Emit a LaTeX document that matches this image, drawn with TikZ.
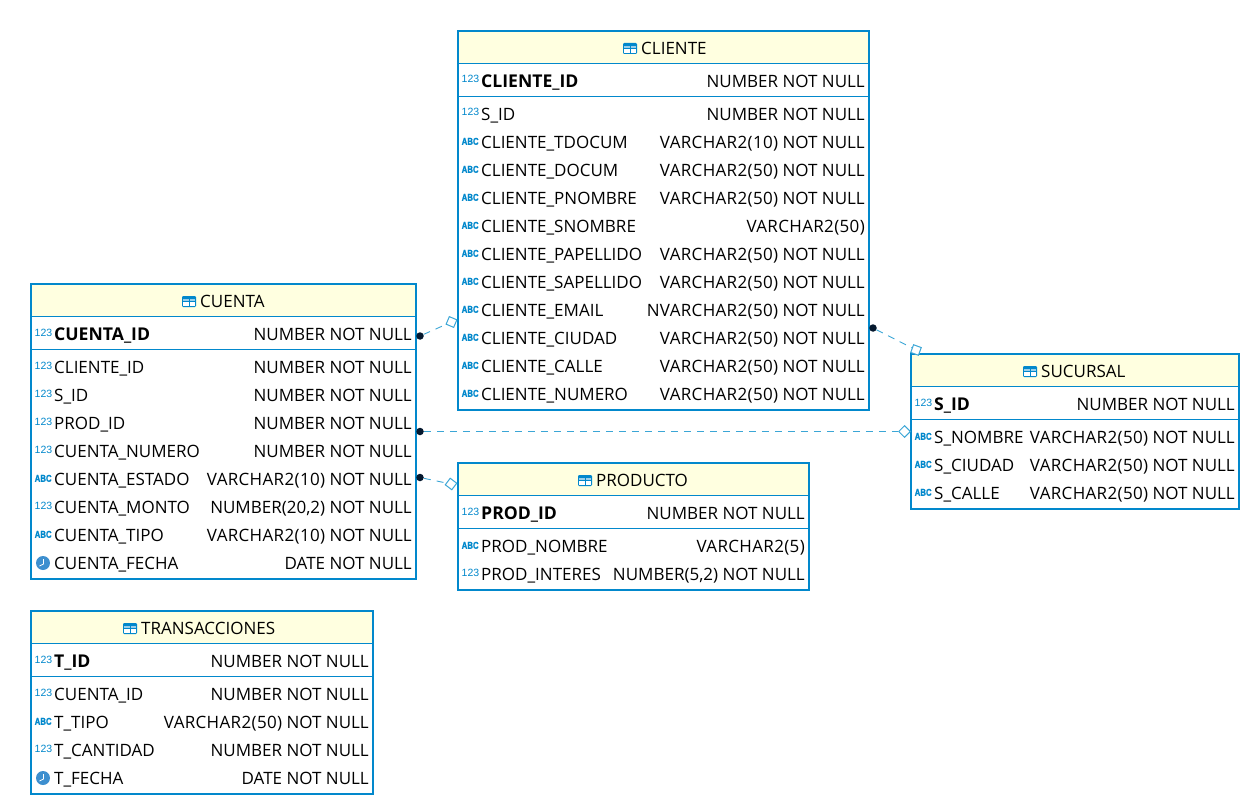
\documentclass[tikz,border=0pt]{standalone}
\usepackage{fontspec}
\usepackage{graphicx}
\setmainfont{Open Sans}
\newfontfamily\iconfont{Liberation Sans}
\newfontfamily\iconbold[FakeBold=1.2]{Liberation Sans Bold}
\definecolor{tblue}{HTML}{0288CC}
\definecolor{ticon}{HTML}{3D8FCF}
\definecolor{thead}{HTML}{FFFFE0}
\definecolor{tlink}{HTML}{3BA6D6}
\definecolor{tdot}{HTML}{05182E}
\newcount\rwc
\newcommand{\vc}[1]{{\addfontfeature{LetterSpace=2}#1}}
\usetikzlibrary{shapes.geometric}
\tikzset{x=1pt,y=-1pt,
  tablebox/.style={draw=tblue,line width=2pt,fill=white,inner sep=0pt,outer sep=0pt,anchor=north west},
  txt/.style={inner sep=0pt,font=\fontsize{17}{20}\selectfont,text=black},
  lab/.style={txt,anchor=base west},
  typ/.style={txt,anchor=base east},
  pk/.style={txt,anchor=base west,font=\fontsize{17.6}{20}\selectfont\bfseries},
  num/.style={inner sep=0pt,anchor=base west,text=tblue,font=\iconfont\fontsize{10.5}{10}\selectfont},
  abc/.style={inner sep=0pt,anchor=base west,text=tblue,font=\iconbold\fontsize{10}{10}\selectfont},
  link/.style={draw=tlink,line width=.9pt,dash pattern=on 7pt off 6pt},
  fkdot/.style={circle,fill=tdot,inner sep=0pt,minimum size=7.5pt},
  fkdia/.style={diamond,draw=tlink,fill=white,line width=1pt,inner sep=0pt,minimum size=12pt,shape aspect=1},
}
% table frame: name x0 y0 x1 y1 iconx title
\newcommand{\tbl}[7]{%
  \node[tablebox,minimum width=#4-#2,minimum height=#5-#3] (#1) at (#2,#3) {};
  \fill[thead] (#2+1,#3+1) rectangle (#4-1,#3+32);
  \draw[tblue,line width=1pt] (#2,#3+32.5) -- (#4,#3+32.5);
  \draw[tblue,line width=1pt] (#2,#3+65.5) -- (#4,#3+65.5);
  \fill[tblue,rounded corners=1.2pt] (#6,#3+12) rectangle (#6+14,#3+23);
  \fill[white!60!tblue] (#6+1.2,#3+15) rectangle (#6+6.5,#3+17);
  \fill[white!60!tblue] (#6+7.5,#3+15) rectangle (#6+12.8,#3+17);
  \fill[white] (#6+1.2,#3+18) rectangle (#6+6.5,#3+21.8);
  \fill[white] (#6+7.5,#3+18) rectangle (#6+12.8,#3+21.8);
  \node[lab] (#1title) at (#6+18,#3+23.5) {#7};
}
% rows: x0 x1 ycentre name type
\newcommand{\nrow}[5]{\global\advance\rwc by 1
  \node[num] (i\the\rwc) at (#1+3.5,#3+2) {123};
  \node[lab] (l\the\rwc) at (#1+23,#3+6.6) {#4};
  \node[typ] (t\the\rwc) at (#2-4,#3+6.6) {#5};}
\newcommand{\arow}[5]{\global\advance\rwc by 1
  \node[abc] (i\the\rwc) at (#1+3.5,#3+2.8) {\scalebox{.78}[1]{ABC}};
  \node[lab] (l\the\rwc) at (#1+23,#3+6.6) {#4};
  \node[typ] (t\the\rwc) at (#2-4,#3+6.6) {#5};}
\newcommand{\drow}[5]{\global\advance\rwc by 1
  \fill[ticon] (#1+12,#3) circle (7pt);
  \draw[white,line width=.8pt] (#1+12.5,#3-4) -- (#1+12.5,#3+1) -- (#1+8.5,#3+3);
  \node[lab] (l\the\rwc) at (#1+23,#3+6.6) {#4};
  \node[typ] (t\the\rwc) at (#2-4,#3+6.6) {#5};}
\newcommand{\prow}[5]{\global\advance\rwc by 1
  \node[num] (i\the\rwc) at (#1+3.5,#3+2) {123};
  \node[pk] (l\the\rwc) at (#1+23,#3+6.6) {#4};
  \node[typ] (t\the\rwc) at (#2-4,#3+6.6) {#5};}
\begin{document}
\begin{tikzpicture}
\useasboundingbox (0,0) rectangle (1250,805);
% CLIENTE
\tbl{cliente}{458}{31}{869}{410}{623}{CLIENTE}
\prow{458}{869}{81}{CLIENTE\_ID}{NUMBER NOT NULL}
\nrow{458}{869}{114}{S\_ID}{NUMBER NOT NULL}
\arow{458}{869}{142}{CLIENTE\_TDOCUM}{\vc{VARCHAR2(10)} NOT NULL}
\arow{458}{869}{170}{CLIENTE\_DOCUM}{\vc{VARCHAR2(50)} NOT NULL}
\arow{458}{869}{198}{CLIENTE\_PNOMBRE}{\vc{VARCHAR2(50)} NOT NULL}
\arow{458}{869}{226}{CLIENTE\_SNOMBRE}{\vc{VARCHAR2(50)}}
\arow{458}{869}{254}{CLIENTE\_PAPELLIDO}{\vc{VARCHAR2(50)} NOT NULL}
\arow{458}{869}{282}{CLIENTE\_SAPELLIDO}{\vc{VARCHAR2(50)} NOT NULL}
\arow{458}{869}{310}{CLIENTE\_EMAIL}{\vc{NVARCHAR2(50)} NOT NULL}
\arow{458}{869}{338}{CLIENTE\_CIUDAD}{\vc{VARCHAR2(50)} NOT NULL}
\arow{458}{869}{366}{CLIENTE\_CALLE}{\vc{VARCHAR2(50)} NOT NULL}
\arow{458}{869}{394}{CLIENTE\_NUMERO}{\vc{VARCHAR2(50)} NOT NULL}
% CUENTA
\tbl{cuenta}{31}{284}{416}{579}{182}{CUENTA}
\prow{31}{416}{334}{CUENTA\_ID}{NUMBER NOT NULL}
\nrow{31}{416}{367}{CLIENTE\_ID}{NUMBER NOT NULL}
\nrow{31}{416}{395}{S\_ID}{NUMBER NOT NULL}
\nrow{31}{416}{423}{PROD\_ID}{NUMBER NOT NULL}
\nrow{31}{416}{451}{CUENTA\_NUMERO}{NUMBER NOT NULL}
\arow{31}{416}{479}{CUENTA\_ESTADO}{\vc{VARCHAR2(10)} NOT NULL}
\nrow{31}{416}{507}{CUENTA\_MONTO}{NUMBER(20,2) NOT NULL}
\arow{31}{416}{535}{CUENTA\_TIPO}{\vc{VARCHAR2(10)} NOT NULL}
\drow{31}{416}{563}{CUENTA\_FECHA}{DATE NOT NULL}
% SUCURSAL
\tbl{sucursal}{911}{354}{1239}{509}{1023}{SUCURSAL}
\prow{911}{1239}{404}{S\_ID}{NUMBER NOT NULL}
\arow{911}{1239}{437}{S\_NOMBRE}{\vc{VARCHAR2(50)} NOT NULL}
\arow{911}{1239}{465}{S\_CIUDAD}{\vc{VARCHAR2(50)} NOT NULL}
\arow{911}{1239}{493}{S\_CALLE}{\vc{VARCHAR2(50)} NOT NULL}
% PRODUCTO
\tbl{producto}{458}{463}{809}{590}{578}{PRODUCTO}
\prow{458}{809}{513}{PROD\_ID}{NUMBER NOT NULL}
\arow{458}{809}{546}{PROD\_NOMBRE}{\vc{VARCHAR2(5)}}
\nrow{458}{809}{574}{PROD\_INTERES}{NUMBER(5,2) NOT NULL}
% TRANSACCIONES
\tbl{transacciones}{31}{611}{373}{794}{123}{TRANSACCIONES}
\prow{31}{373}{661}{T\_ID}{NUMBER NOT NULL}
\nrow{31}{373}{694}{CUENTA\_ID}{NUMBER NOT NULL}
\arow{31}{373}{722}{T\_TIPO}{\vc{VARCHAR2(50)} NOT NULL}
\nrow{31}{373}{750}{T\_CANTIDAD}{NUMBER NOT NULL}
\drow{31}{373}{778}{T\_FECHA}{DATE NOT NULL}
% connectors
\node[fkdot] (d1) at (420,336) {};
\node[fkdia,rotate=22] (c1) at (451.5,322) {};
\node[fkdot] (d2) at (420,431.5) {};
\node[fkdia] (c2) at (904.5,431.5) {};
\node[fkdot] (d3) at (420,477.5) {};
\node[fkdia,rotate=8] (c3) at (451,484) {};
\node[fkdot] (d4) at (873,328) {};
\node[fkdia,rotate=25] (c4) at (916,350) {};
\draw[link] (d1) -- (c1);
\draw[link] (d2) -- (c2);
\draw[link] (d3) -- (c3);
\draw[link] (d4) -- (c4);
\end{tikzpicture}
\end{document}
